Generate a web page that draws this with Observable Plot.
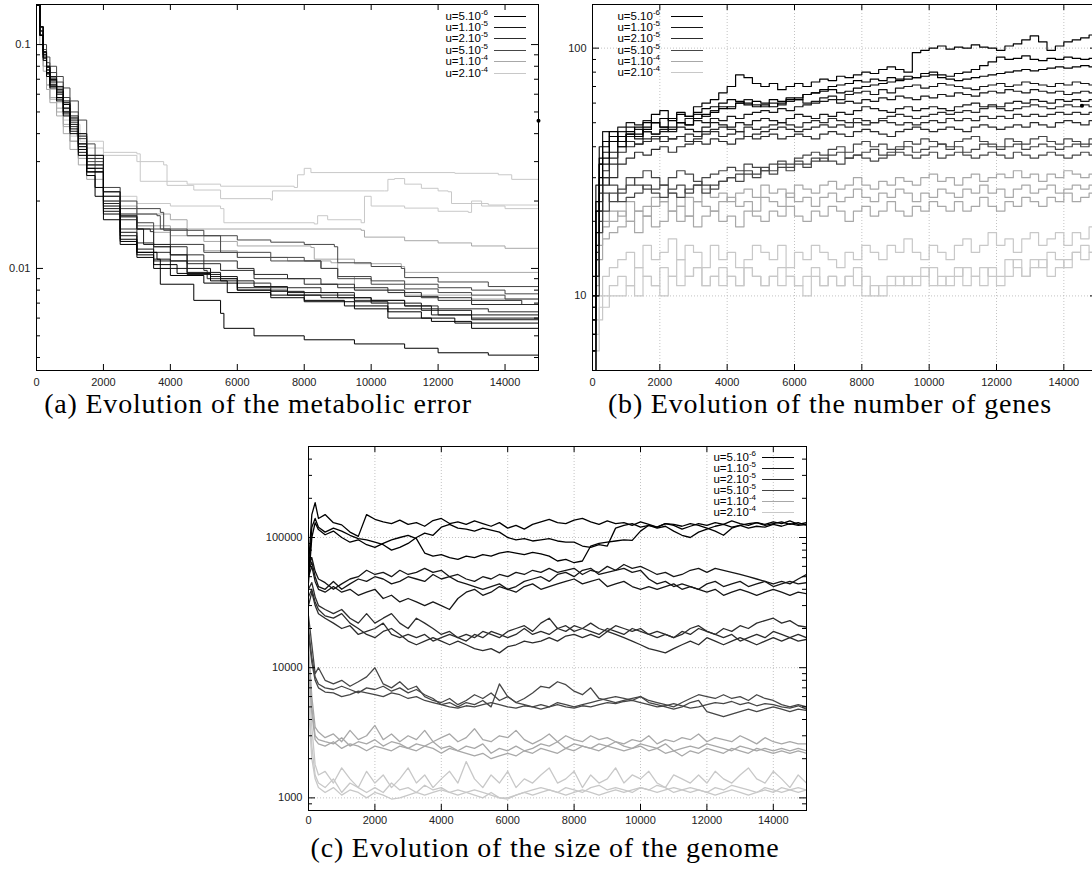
<!DOCTYPE html>
<html><head><meta charset="utf-8">
<script src="https://cdn.jsdelivr.net/npm/d3@7"></script>
<script src="https://cdn.jsdelivr.net/npm/@observablehq/plot@0.6"></script>
<style>
html,body{margin:0;padding:0;background:#fff;}
body{width:1092px;height:871px;overflow:hidden;position:relative;font-family:"Liberation Sans",Arial,sans-serif;}
.panel{position:absolute;}
.panel svg{max-width:none !important;display:block;}
.cap{position:absolute;font-family:"Liberation Serif","Times New Roman",serif;font-size:28px;letter-spacing:0.8px;color:#000;white-space:nowrap;transform:translate(-50%,-50%);}
.lt{position:absolute;font-size:11.5px;line-height:14px;color:#000;white-space:nowrap;text-align:right;}
.lt sup{font-size:8px;line-height:0;vertical-align:5px;}
.ll{position:absolute;height:0;}
</style></head>
<body>
<script>
// ---------- categories ----------
const uKeys = ["5e-6","1e-5","2e-5","5e-5","1e-4","2e-4"];
const uMant = [5,1,2,5,1,2];
const uExp = [-6,-5,-5,-5,-4,-4];
const uColors = ["#000000","#161616","#2c2c2c","#464646","#a8a8a8","#c8c8c8"];

// ---------- shared tick labels ----------
const xTicks = [0,2000,4000,6000,8000,10000,12000,14000];

// ---------- (a) metabolic error : runs of [generation, error] ----------
const errTicks = [0.01,0.1];
const errMinor = [0.004,0.005,0.006,0.007,0.008,0.009,0.02,0.03,0.04,0.05,0.06,0.07,0.08,0.09];
const errU5e6 = [
 [[0,0.15],[100,0.11],[200,0.085],[300,0.072],[400,0.064],[600,0.058],[800,0.050],[1000,0.042],[1250,0.034],[1500,0.027],[2000,0.0175],[2500,0.0132],[3000,0.0112],[3500,0.0100],[4000,0.0093],[5000,0.0086],[6000,0.0080],[7000,0.0076],[8000,0.0072],[9200,0.0068],[10500,0.0064],[11500,0.0060],[12500,0.0057],[15000,0.0054]],
 [[0,0.15],[100,0.12],[200,0.093],[300,0.08],[400,0.07],[600,0.062],[800,0.054],[1000,0.046],[1250,0.036],[1500,0.028],[1750,0.023],[2000,0.019],[2500,0.0135],[3000,0.0115],[3500,0.0104],[4200,0.0095],[5200,0.0088],[5700,0.0078],[7000,0.0074],[8000,0.0071],[9500,0.0066],[10500,0.0060],[11800,0.0058],[13000,0.0054],[15000,0.0052]],
 [[0,0.15],[100,0.11],[200,0.088],[300,0.075],[400,0.066],[600,0.056],[800,0.048],[1000,0.040],[1250,0.032],[1500,0.026],[1750,0.021],[2000,0.0165],[2500,0.0128],[3000,0.0118],[3600,0.0110],[3700,0.0085],[4700,0.0072],[5500,0.0063],[5600,0.0054],[6500,0.0050],[8000,0.0048],[9500,0.0046],[11000,0.0044],[12000,0.0042],[13500,0.0041],[15000,0.0040]]
];
const errU1e5 = [
 [[0,0.15],[100,0.12],[200,0.092],[300,0.08],[400,0.072],[600,0.065],[800,0.056],[1000,0.048],[1250,0.040],[1500,0.032],[2000,0.022],[2500,0.0172],[3000,0.0150],[3200,0.0128],[4000,0.0115],[4500,0.0100],[5200,0.0092],[6000,0.0080],[7500,0.0076],[8500,0.0074],[10000,0.0070],[11500,0.0065],[13000,0.0062],[15000,0.0060]],
 [[0,0.15],[100,0.11],[200,0.087],[300,0.074],[400,0.065],[600,0.057],[800,0.049],[1000,0.041],[1250,0.033],[1500,0.027],[2000,0.0185],[2500,0.0145],[3000,0.0122],[3500,0.0110],[4000,0.0100],[4500,0.0094],[5500,0.0088],[6500,0.0083],[7500,0.0078],[9000,0.0074],[10000,0.0072],[11000,0.0068],[11800,0.0062],[13000,0.0060],[15000,0.0058]],
 [[0,0.15],[100,0.115],[200,0.09],[300,0.077],[400,0.068],[600,0.060],[800,0.052],[1000,0.044],[1250,0.035],[1500,0.028],[2000,0.018],[2500,0.0140],[3000,0.0118],[3500,0.0108],[4500,0.0096],[5500,0.0090],[6000,0.0082],[7000,0.0079],[8000,0.0076],[9500,0.0071],[10500,0.0066],[12000,0.0062],[13000,0.0059],[15000,0.0056]]
];
const errU2e5 = [
 [[0,0.15],[100,0.12],[200,0.092],[300,0.079],[400,0.07],[600,0.063],[800,0.055],[1000,0.047],[1250,0.039],[1500,0.031],[2000,0.021],[2500,0.0170],[3000,0.0150],[3500,0.0125],[4000,0.0115],[5000,0.0108],[6000,0.0100],[6500,0.0090],[8000,0.0085],[9000,0.0082],[10500,0.0078],[11500,0.0074],[13000,0.0072],[14500,0.0069],[15000,0.0068]],
 [[0,0.15],[100,0.11],[200,0.087],[300,0.074],[400,0.066],[600,0.058],[800,0.05],[1000,0.043],[1250,0.035],[1500,0.029],[2000,0.020],[2500,0.0165],[3000,0.0150],[3400,0.0146],[3500,0.0125],[4500,0.0105],[5500,0.0098],[6500,0.0094],[7500,0.0090],[8500,0.0085],[9500,0.0080],[11000,0.0075],[12000,0.0072],[13000,0.0069],[15000,0.0066]],
 [[0,0.15],[100,0.115],[200,0.09],[300,0.077],[400,0.069],[600,0.061],[800,0.052],[1000,0.045],[1250,0.036],[1500,0.029],[2000,0.0195],[2500,0.0150],[3000,0.0130],[3500,0.0118],[4000,0.0108],[5000,0.0098],[5100,0.0090],[6000,0.0086],[7000,0.0082],[8500,0.0078],[9500,0.0072],[11000,0.0068],[12000,0.0066],[13500,0.0064],[15000,0.0062]]
];
const errU5e5 = [
 [[0,0.15],[100,0.12],[200,0.10],[300,0.088],[400,0.08],[600,0.072],[800,0.064],[1000,0.056],[1250,0.046],[1500,0.036],[1750,0.028],[2000,0.023],[2500,0.0200],[3000,0.0185],[3700,0.0178],[3800,0.0148],[5000,0.0140],[6000,0.0134],[7000,0.0131],[8000,0.0128],[8900,0.0125],[9000,0.0106],[10000,0.0102],[10900,0.0100],[11000,0.0091],[12000,0.0087],[13500,0.0083],[15000,0.0080]],
 [[0,0.15],[100,0.12],[200,0.095],[300,0.083],[400,0.075],[600,0.068],[800,0.058],[1000,0.050],[1250,0.040],[1500,0.032],[2000,0.022],[2500,0.0185],[3000,0.0175],[3600,0.0172],[3700,0.0150],[4500,0.0140],[5500,0.0118],[7000,0.0112],[8000,0.0108],[8500,0.0100],[9000,0.0092],[10000,0.0088],[11000,0.0085],[12000,0.0082],[13000,0.0080],[14000,0.0077],[15000,0.0074]],
 [[0,0.15],[100,0.11],[200,0.09],[300,0.079],[400,0.071],[600,0.064],[800,0.055],[1000,0.047],[1250,0.038],[1500,0.030],[2000,0.021],[2500,0.0175],[3000,0.0160],[3500,0.0150],[4000,0.0128],[5000,0.0118],[6000,0.0112],[7000,0.0108],[8500,0.0100],[9000,0.0090],[10000,0.0085],[11000,0.0081],[12000,0.0078],[13000,0.0076],[14000,0.0073],[15000,0.0071]]
];
const errU1e4 = [
 [[0,0.15],[100,0.11],[200,0.08],[300,0.066],[400,0.057],[600,0.050],[800,0.043],[1000,0.037],[1250,0.031],[1500,0.027],[2000,0.022],[2500,0.0190],[3000,0.0175],[4000,0.0165],[4500,0.0150],[9700,0.0148],[9800,0.0138],[11000,0.0133],[12000,0.0130],[13000,0.0126],[14000,0.0123],[15000,0.0122]],
 [[0,0.15],[100,0.10],[200,0.076],[300,0.063],[400,0.055],[600,0.048],[800,0.040],[1000,0.034],[1250,0.029],[1500,0.025],[2000,0.020],[2500,0.0170],[3000,0.0155],[4000,0.014],[5000,0.0132],[6000,0.0126],[8200,0.0124],[8300,0.0110],[9500,0.0105],[10900,0.0102],[11000,0.0096],[15000,0.0095]],
 [[0,0.15],[100,0.11],[200,0.08],[300,0.066],[400,0.058],[600,0.052],[800,0.044],[1000,0.037],[1250,0.031],[1500,0.027],[2000,0.021],[2500,0.0175],[3000,0.0155],[3500,0.0145],[4000,0.0128],[5000,0.0120],[6000,0.0112],[7500,0.0108],[8800,0.0106],[9000,0.0092],[9500,0.0080],[11000,0.0076],[13000,0.0073],[15000,0.0070]]
];
const errU2e4 = [
 [[0,0.15],[100,0.115],[200,0.09],[300,0.077],[400,0.067],[600,0.058],[800,0.050],[1000,0.044],[1200,0.039],[1500,0.0345],[2000,0.0330],[3000,0.0325],[3100,0.0245],[4500,0.0238],[5500,0.0233],[7700,0.0230],[7800,0.0262],[8000,0.0280],[8200,0.0268],[12500,0.0266],[13800,0.0262],[14200,0.0250],[15000,0.0242]],
 [[0,0.15],[100,0.12],[200,0.095],[300,0.08],[400,0.07],[600,0.060],[800,0.051],[1000,0.044],[1300,0.037],[2000,0.032],[3000,0.030],[3800,0.029],[3900,0.0235],[4700,0.0224],[5500,0.0205],[7000,0.0202],[7050,0.0222],[10400,0.0222],[10500,0.0250],[10700,0.0252],[11000,0.0238],[11500,0.0228],[12000,0.0222],[12300,0.0220],[12400,0.0195],[13500,0.0192],[15000,0.0187]],
 [[0,0.15],[100,0.11],[200,0.085],[300,0.072],[400,0.063],[600,0.055],[800,0.046],[1000,0.039],[1250,0.032],[1500,0.028],[2000,0.023],[2500,0.0210],[3000,0.0195],[4000,0.019],[5500,0.0185],[5600,0.016],[8300,0.0158],[8400,0.0172],[8700,0.0165],[9700,0.0160],[9800,0.0210],[10000,0.0190],[11000,0.0186],[12000,0.0180],[12900,0.0178],[13000,0.0200],[13300,0.0190],[14000,0.0185],[15000,0.0183]]
];
const errDot = [[15000,0.0457]];

// ---------- shared generation grid for (b) and (c) ----------
const genX = [0,100,200,300,500,750,1000,1250,1500,1750,2000,2250,2500,2750,3000,3250,3500,3750,4000,4250,4500,4750,5000,5250,5500,5750,6000,6250,6500,6750,7000,7250,7500,7750,8000,8250,8500,8750,9000,9250,9500,9750,10000,10250,10500,10750,11000,11250,11500,11750,12000,12250,12500,12750,13000,13250,13500,13750,14000,14250,14500,14750,15000];

// ---------- (b) number of genes ----------
const genesTicks = [10,100];
const genesMinor = [6,7,8,9,20,30,40,50,60,70,80,90];
const genesU5e6 = [
 [8,22,34,40,46,42,45,48,50,54,56,52,55,53,58,60,62,66,70,78,76,72,70,72,68,70,72,70,73,75,74,77,76,78,80,79,82,84,82,80,96,98,100,102,99,101,100,103,101,100,98,102,104,108,112,106,98,102,106,108,110,113,116],
 [10,24,36,42,44,40,46,45,48,50,48,52,50,49,52,54,55,57,58,60,59,61,60,62,61,63,62,65,66,68,70,71,72,74,73,75,74,76,75,77,76,79,80,78,77,79,80,82,85,88,92,90,91,93,90,89,91,90,92,91,90,91,92],
 [7,18,30,36,42,44,45,44,47,50,52,51,54,53,55,57,58,60,62,61,60,58,59,58,60,62,63,65,66,67,68,66,67,69,70,71,72,73,74,75,76,77,78,76,75,74,75,76,77,78,79,80,81,82,81,82,83,84,83,84,85,84,85]
];
const genesU1e5 = [
 [12,28,40,46,44,48,50,49,51,50,48,47,50,52,54,53,56,58,57,60,62,59,58,60,59,61,62,60,61,63,64,62,65,66,67,65,68,66,69,70,71,69,70,72,71,70,69,68,70,71,72,70,71,73,72,71,70,72,71,73,72,71,72],
 [9,22,34,38,42,46,48,47,46,45,46,48,50,49,51,50,52,51,53,52,54,55,56,55,57,56,58,59,60,61,62,60,61,60,62,61,63,62,64,63,62,64,63,65,64,66,65,64,66,67,66,68,67,66,68,67,66,67,65,66,67,66,66],
 [6,16,28,34,38,42,44,43,46,45,47,46,48,47,46,48,50,49,48,50,49,51,52,51,50,52,54,53,52,54,53,55,54,56,58,57,56,55,57,58,56,57,58,57,56,58,59,60,58,59,58,60,61,60,62,61,60,62,61,62,61,62,62]
];
const genesU2e5 = [
 [5,14,26,32,36,40,42,41,43,44,42,43,44,45,44,46,47,48,47,46,48,47,48,49,50,49,48,50,51,50,52,51,50,52,51,50,52,53,54,53,52,53,54,55,54,55,56,55,57,58,57,56,57,58,59,58,57,58,59,58,59,58,59],
 [6,15,24,30,34,38,40,41,42,43,44,43,44,42,43,45,46,44,45,46,44,45,46,47,48,47,46,47,48,49,48,49,48,50,49,50,51,50,49,50,49,50,51,50,52,51,52,51,53,52,53,52,54,53,54,53,54,55,54,55,54,55,55],
 [4,12,22,28,30,34,36,38,37,39,40,38,40,41,42,41,43,42,41,43,44,43,44,45,43,44,45,44,43,45,46,45,44,46,47,46,45,44,46,47,48,47,46,47,48,47,46,48,49,48,47,48,49,48,50,49,48,50,51,50,49,51,50]
];
const genesU5e5 = [
 [5,14,22,30,28,26,30,28,27,26,25,27,28,26,28,30,31,32,33,32,34,33,32,34,35,34,36,37,38,37,39,40,38,41,42,40,41,39,40,42,41,43,42,41,40,42,43,44,42,41,40,43,42,41,43,44,42,41,43,42,41,43,42],
 [4,12,20,26,24,27,28,30,32,30,28,26,25,27,28,26,28,29,30,31,32,31,33,32,34,33,35,34,36,35,37,38,36,37,38,39,37,38,39,40,38,39,40,41,39,40,38,39,41,40,39,40,41,39,40,41,40,39,40,41,40,41,40],
 [3,10,18,22,26,24,25,26,28,27,28,30,32,31,29,28,27,29,30,29,31,30,32,31,33,32,34,33,35,36,35,34,36,37,36,35,36,37,38,37,36,37,38,36,37,38,37,36,37,38,37,36,38,37,36,37,38,37,36,37,38,37,37]
];
const genesU1e4 = [
 [8,14,18,20,22,21,24,22,23,25,24,26,23,25,24,27,25,26,24,26,27,25,28,26,27,25,28,27,26,28,29,27,28,30,28,27,29,28,30,29,28,30,31,29,30,28,30,31,29,30,31,30,32,30,31,29,31,30,32,31,30,31,31],
 [7,12,16,19,20,22,20,22,21,23,24,22,23,21,24,23,22,24,25,23,24,22,25,24,23,26,24,25,23,25,26,24,25,27,25,24,26,25,27,26,24,26,25,27,26,25,27,26,28,26,27,25,27,28,26,27,28,26,27,28,27,28,28],
 [6,11,14,17,18,19,20,18,21,19,20,22,20,21,19,21,22,20,21,19,22,21,20,22,21,23,21,20,22,21,23,22,20,22,23,21,22,24,22,21,23,22,24,23,22,24,22,23,25,23,22,24,23,25,24,23,25,24,26,24,25,26,26]
];
const genesU2e4 = [
 [5,8,10,12,13,14,15,13,16,14,15,17,14,16,15,13,16,14,15,13,14,16,15,14,16,13,15,14,16,15,14,13,15,14,16,15,14,16,15,17,15,14,16,15,14,16,17,15,16,18,16,17,15,17,18,16,17,18,16,18,17,19,19],
 [4,7,9,10,11,12,11,13,12,11,13,12,14,12,13,11,12,13,12,11,13,12,11,12,13,12,11,12,13,11,12,11,12,13,10,11,10,11,12,11,12,13,11,12,11,12,13,12,11,13,12,14,13,12,14,13,15,14,13,15,16,15,17],
 [3,6,8,9,10,10,11,10,12,11,10,12,11,12,13,11,12,11,12,11,13,12,11,12,11,12,11,10,12,11,12,11,12,11,12,10,11,12,11,12,11,12,13,11,12,13,11,12,13,12,11,12,14,12,13,14,12,13,14,15,14,15,15]
];
const genesDot = [[14540,58.6]];

// ---------- (c) genome size ----------
const sizeTicks = [1000,10000,100000];
const sizeMinor = [900,2000,3000,4000,5000,6000,7000,8000,9000,20000,30000,40000,50000,60000,70000,80000,90000,200000,300000,400000];
const sizeU5e6 = [
 [60000,150000,185000,140000,150000,130000,125000,110000,102000,150000,138000,132000,128000,136000,126000,130000,122000,135000,140000,128000,132000,126000,134000,128000,122000,130000,118000,124000,116000,126000,132000,138000,130000,128000,136000,140000,132000,126000,134000,128000,130000,124000,132000,126000,120000,128000,124000,116000,122000,128000,124000,130000,126000,134000,128000,124000,130000,126000,132000,128000,134000,126000,130000],
 [50000,120000,140000,120000,110000,118000,112000,104000,98000,96000,92000,88000,80000,84000,90000,100000,108000,104000,120000,126000,118000,116000,112000,118000,114000,110000,100000,96000,98000,94000,96000,98000,94000,92000,92000,86000,84000,88000,86000,118000,124000,128000,120000,124000,118000,122000,112000,104000,100000,110000,116000,122000,126000,120000,124000,118000,122000,120000,126000,122000,128000,124000,126000],
 [45000,100000,130000,115000,105000,112000,100000,92000,96000,88000,84000,90000,96000,100000,104000,98000,76000,72000,74000,70000,68000,72000,70000,74000,72000,76000,78000,76000,74000,77000,75000,72000,66000,68000,64000,66000,86000,90000,92000,94000,96000,95000,112000,124000,120000,128000,126000,122000,128000,124000,118000,112000,104000,118000,124000,128000,130000,124000,128000,132000,126000,130000,124000]
];
const sizeU1e5 = [
 [60000,70000,55000,48000,45000,40000,44000,48000,50000,56000,52000,54000,50000,56000,52000,54000,58000,54000,56000,50000,52000,48000,46000,50000,48000,52000,50000,54000,52000,56000,54000,58000,54000,56000,58000,52000,56000,54000,60000,56000,62000,58000,60000,56000,52000,54000,50000,52000,56000,58000,54000,58000,56000,54000,52000,50000,48000,46000,44000,46000,44000,48000,52000],
 [55000,65000,50000,42000,40000,46000,40000,44000,48000,46000,50000,48000,44000,46000,50000,48000,46000,52000,48000,50000,46000,44000,42000,40000,42000,44000,40000,42000,46000,48000,50000,46000,52000,54000,50000,56000,58000,52000,54000,56000,58000,54000,56000,48000,44000,46000,42000,44000,42000,40000,44000,46000,42000,44000,46000,42000,44000,46000,42000,44000,46000,44000,45000],
 [50000,60000,46000,40000,38000,42000,38000,40000,36000,38000,40000,34000,36000,32000,34000,32000,30000,32000,30000,28000,34000,38000,40000,36000,38000,42000,40000,38000,42000,44000,40000,42000,44000,46000,48000,44000,46000,48000,42000,44000,46000,42000,40000,42000,40000,42000,44000,40000,42000,40000,38000,40000,36000,38000,40000,38000,36000,38000,40000,38000,36000,38000,37000]
];
const sizeU2e5 = [
 [40000,45000,35000,30000,28000,26000,28000,24000,22000,26000,22000,24000,26000,22000,20000,24000,22000,20000,18000,19000,17000,18000,17000,19000,18000,17000,19000,20000,21000,19000,22000,24000,20000,21000,19000,20000,22000,20000,19000,21000,20000,19000,20000,18000,19000,18000,17000,18000,20000,21000,19000,18000,20000,19000,21000,20000,22000,23000,24000,22000,23000,21000,20500],
 [35000,40000,32000,28000,25000,24000,26000,22000,20000,18000,17000,19000,20000,18000,16000,15000,16000,17000,16000,15000,16000,15000,14000,13500,14000,13000,14500,15000,16000,15500,16000,17000,16000,17500,18000,17000,18000,17000,19000,18000,17000,16000,15000,14000,13500,13000,14000,15000,16000,15000,17000,16000,15000,16000,17000,16000,15000,16000,17000,16000,17000,16000,16500],
 [30000,38000,30000,26000,24000,22000,20000,21000,18000,19000,20000,22000,18000,17000,18000,17000,18000,16000,17000,18000,17000,16000,18000,17000,19000,18000,17000,18000,20000,18000,19000,18000,20000,19000,21000,20000,19000,18000,20000,19000,18000,20000,19000,18000,17000,18000,17000,19000,18000,20000,19000,18000,17000,18000,16000,17000,18000,17000,19000,18000,17000,18000,17000]
];
const sizeU5e5 = [
 [25000,15000,9000,10000,8000,7500,8000,7200,7800,8500,10000,7500,7000,7800,6800,7200,6000,5600,5400,5800,5200,5600,6200,5800,6400,5600,6000,5400,5800,6400,7200,7000,7800,7400,6600,6200,7000,5800,5600,5400,5600,5800,6000,5600,5400,5200,5000,5400,5800,6200,6000,5800,6200,5800,6000,5600,6200,5800,5600,5200,5000,5200,5000],
 [20000,12000,8500,7500,7000,6800,7200,6800,6400,7000,6800,7200,6600,7000,6400,6800,6200,5800,5200,5400,5000,5400,5200,5600,5000,7500,6000,5400,5200,5000,5200,5000,5400,5200,5000,5200,5400,5600,5800,6000,5800,5600,6000,5400,5200,5000,4800,5000,5400,5600,4600,4400,4200,4400,4600,4800,4600,4800,5000,4800,4600,4800,4700],
 [18000,11000,8000,7000,6500,6400,6000,6200,6600,6400,6200,6000,6400,6200,5800,6000,5600,5400,5200,5000,4900,5100,5000,5200,5400,5200,5000,4900,5100,5000,4800,5000,5200,5000,4900,5100,5000,5200,5400,5300,5500,5600,5400,5200,5000,5100,5300,5100,4900,5000,5200,5400,5300,5500,5200,5400,5100,5300,5200,5000,4900,5100,4800]
];
const sizeU1e4 = [
 [15000,6000,3500,3200,2900,3100,2700,3300,2800,3000,3600,2800,3100,2700,3000,2800,3300,2700,2900,3100,2700,2900,3400,2800,2700,3000,2900,3300,2800,2600,2800,3100,2700,3000,2800,2700,3000,2800,2900,2700,2600,2800,2700,3000,2600,2800,2700,2900,2800,3100,2700,2900,2800,2700,3000,2800,2600,2900,2700,2600,2700,2600,2600],
 [12000,5000,3000,2800,2700,2600,2900,2500,2700,2600,2800,2500,2700,2600,2400,2600,2500,2700,2400,2500,2300,2500,2400,2600,2200,2400,2300,2500,2300,2400,2600,2500,2700,2400,2600,2500,2400,2600,2500,2700,2500,2400,2600,2500,2400,2600,2300,2400,2500,2400,2600,2500,2400,2300,2500,2400,2300,2400,2300,2400,2300,2400,2300],
 [10000,4500,2800,2600,2500,2700,2400,2600,2500,2300,2500,2400,2300,2500,2400,2300,2500,2400,2200,2400,2300,2200,2100,2200,2000,2100,2200,2100,2300,2200,2400,2300,2200,2400,2300,2500,2400,2300,2500,2400,2300,2400,2500,2300,2400,2200,2300,2100,2300,2200,2400,2300,2200,2400,2300,2200,2400,2300,2200,2300,2200,2300,2200]
];
const sizeU2e4 = [
 [8000,3500,1800,1500,1600,1300,1700,1400,1200,1600,1300,1500,1200,1400,1700,1300,1500,1200,1400,1600,1300,1900,1400,1200,1500,1300,1600,1200,1400,1300,1500,1700,1300,1400,1600,1200,1500,1300,1400,1700,1300,1500,1400,1600,1300,1200,1500,1400,1300,1500,1300,1600,1400,1300,1500,1700,1400,1300,1600,1400,1200,1500,1300],
 [6000,2500,1500,1300,1200,1400,1100,1300,1200,1100,1200,1100,1300,1150,1200,1100,1250,1150,1200,1100,1150,1100,1050,1000,1100,1000,980,1050,1100,1150,1200,1150,1100,1200,1150,1100,1200,1250,1150,1200,1150,1100,1200,1150,1250,1200,1100,1150,1200,1150,1100,1200,1150,1250,1200,1150,1100,1200,1150,1100,1150,1200,1150],
 [5000,2000,1400,1200,1100,1200,1050,1150,1100,1000,1100,1050,980,1000,1050,1100,1050,1100,1150,1100,1050,1100,1150,1100,1050,1000,1000,1050,1100,1050,1100,1150,1100,1050,1100,1150,1100,1050,1100,1150,1100,1150,1200,1150,1100,1150,1200,1150,1100,1150,1100,1050,1100,1150,1100,1050,1100,1150,1100,1200,1150,1100,1150]
];

// ---------- table builders ----------
function pairRows(groups){
  const rows=[];
  for(let gi=groups.length-1;gi>=0;gi--) groups[gi].forEach((run,ri)=>run.forEach(([x,y])=>rows.push({x,y,u:uKeys[gi],run:gi*10+ri})));
  return rows;
}
function gridRows(xs,groups){
  const rows=[];
  for(let gi=groups.length-1;gi>=0;gi--) groups[gi].forEach((run,ri)=>run.forEach((y,i)=>rows.push({x:xs[i],y,u:uKeys[gi],run:gi*10+ri})));
  return rows;
}

function panel(o){
  const iw=o.width-o.ml-o.mr, ih=o.height-o.mt-o.mb;
  const marks=[];
  if(o.grid){
    marks.push(Plot.ruleX(xTicks.filter(d=>d>0),{stroke:"#b4b4b4",strokeWidth:0.8,strokeDasharray:"1,2"}));
    marks.push(Plot.ruleY(o.yTicks,{stroke:"#b4b4b4",strokeWidth:0.8,strokeDasharray:"1,2"}));
  }
  marks.push(Plot.line(o.rows,{x:"x",y:"y",z:"run",stroke:"u",curve:o.curve,strokeWidth:o.sw,clip:true}));
  if(o.dots) marks.push(Plot.dot(o.dots,{x:d=>d[0],y:d=>d[1],r:2,fill:"#000",stroke:null}));
  marks.push(Plot.frame({stroke:"#000",strokeWidth:1}));
  marks.push(Plot.tickX(xTicks,{x:d=>d,insetTop:ih-6,stroke:"#000"}));
  marks.push(Plot.tickX(xTicks,{x:d=>d,insetBottom:ih-6,stroke:"#000"}));
  marks.push(Plot.tickY(o.yTicks,{y:d=>d,insetRight:iw-7,stroke:"#000"}));
  marks.push(Plot.tickY(o.yTicks,{y:d=>d,insetLeft:iw-7,stroke:"#000"}));
  marks.push(Plot.tickY(o.yMinor,{y:d=>d,insetRight:iw-4,stroke:"#000"}));
  marks.push(Plot.tickY(o.yMinor,{y:d=>d,insetLeft:iw-4,stroke:"#000"}));
  marks.push(Plot.axisX(xTicks,{tickSize:0,tickPadding:o.xPad,tickFormat:d=>String(d),label:null,fill:"#222"}));
  marks.push(Plot.axisY(o.yTicks,{tickSize:0,tickPadding:o.yPad,tickFormat:d=>String(d),label:null,fill:"#222"}));
  return Plot.plot({
    width:o.width,height:o.height,marginLeft:o.ml,marginRight:o.mr,marginTop:o.mt,marginBottom:o.mb,
    x:{domain:[0,15000]},
    y:{type:"log",domain:o.yDomain},
    color:{domain:uKeys,range:uColors},
    style:{fontFamily:"'Liberation Sans',Arial,sans-serif",fontSize:"11px",background:"#fff",color:"#222"},
    marks
  });
}

function place(node,left,top,w,h){
  const d=document.createElement("div");
  d.className="panel";d.style.left=left+"px";d.style.top=top+"px";d.style.width=w+"px";d.style.height=h+"px";
  d.appendChild(node);document.body.appendChild(d);
}
function caption(text,cx,cy){
  const d=document.createElement("div");d.className="cap";d.textContent=text;
  d.style.left=cx+"px";d.style.top=cy+"px";document.body.appendChild(d);
}
function legend(textRight,lx1,lx2,y0,dy){
  uKeys.forEach((u,i)=>{
    const y=y0+i*dy;
    const t=document.createElement("div");t.className="lt";
    t.style.right=(1092-textRight)+"px";t.style.top=(y-7)+"px";
    t.innerHTML="u="+uMant[i]+".10<sup>"+uExp[i]+"</sup>";
    document.body.appendChild(t);
    const l=document.createElement("div");l.className="ll";
    l.style.left=lx1+"px";l.style.top=Math.round(y)+"px";l.style.width=(lx2-lx1)+"px";
    l.style.borderTop="1px solid "+uColors[i];
    document.body.appendChild(l);
  });
}

// (a)
place(panel({width:545,height:400,ml:36,mr:7,mt:4,mb:30,yDomain:[0.0035,0.151],yTicks:errTicks,yMinor:errMinor,
  grid:false,rows:pairRows([errU5e6,errU1e5,errU2e5,errU5e5,errU1e4,errU2e4]),curve:"step-after",dots:errDot,xPad:8,yPad:6,sw:1}),0,0,545,400);
// (b)
place(panel({width:560,height:400,ml:47,mr:8,mt:4,mb:30,yDomain:[5,150],yTicks:genesTicks,yMinor:genesMinor,
  grid:true,rows:gridRows(genX,[genesU5e6,genesU1e5,genesU2e5,genesU5e5,genesU1e4,genesU2e4]),curve:"step-after",dots:genesDot,xPad:8,yPad:6,sw:1.2}),545,0,560,400);
// (c)
place(panel({width:560,height:400,ml:46,mr:16,mt:4,mb:32,yDomain:[800,500000],yTicks:sizeTicks,yMinor:sizeMinor,
  grid:true,rows:gridRows(genX,[sizeU5e6,sizeU1e5,sizeU2e5,sizeU5e5,sizeU1e4,sizeU2e4]),curve:"linear",dots:null,xPad:6,yPad:6,sw:1.3}),262,442,560,400);

legend(488,494,526,15.5,11.4);
legend(660,671,703,16,11.2);
legend(756,762,794,457,11);

caption("(a) Evolution of the metabolic error",258,404);
caption("(b) Evolution of the number of genes",830,404);
caption("(c) Evolution of the size of the genome",545,848);
</script>
</body></html>
